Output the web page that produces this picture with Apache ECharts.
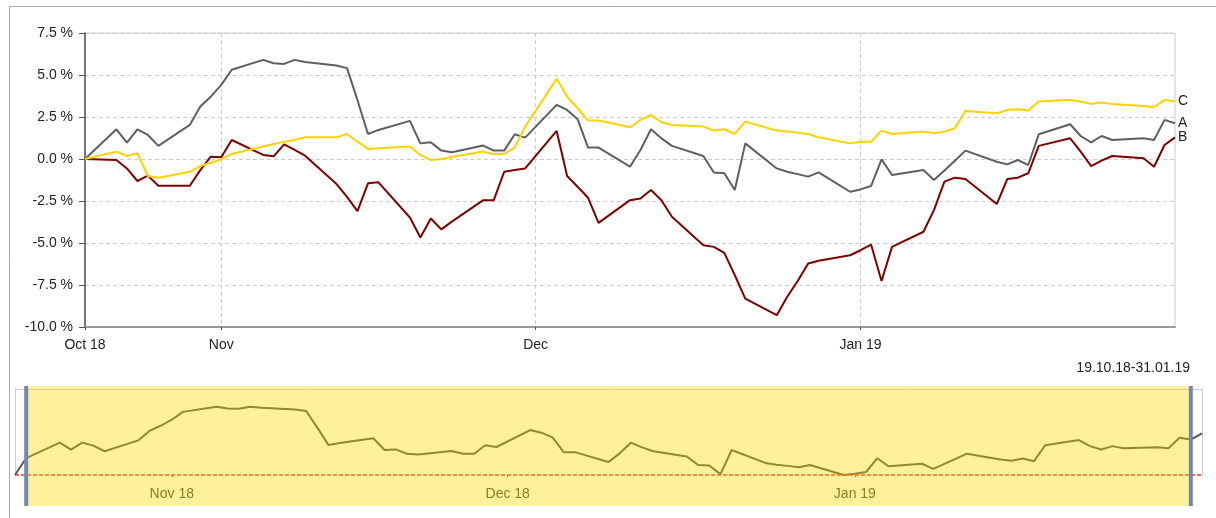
<!DOCTYPE html>
<html>
<head>
<meta charset="utf-8">
<script src="https://cdn.jsdelivr.net/npm/echarts@6/dist/echarts.min.js"></script>
<style>
html,body{margin:0;padding:0;background:#fff;}
#chart{width:1216px;height:518px;}
</style>
</head>
<body>
<div id="chart"></div>
<script>
// ---- data ----
const dates = [
 '2018-10-19','2018-10-22','2018-10-23','2018-10-24','2018-10-25','2018-10-26','2018-10-29','2018-10-30','2018-10-31',
 '2018-11-01','2018-11-02','2018-11-05','2018-11-06','2018-11-07','2018-11-08','2018-11-09','2018-11-12','2018-11-13','2018-11-14','2018-11-15','2018-11-16','2018-11-19','2018-11-20','2018-11-21','2018-11-22','2018-11-23','2018-11-26','2018-11-27','2018-11-28','2018-11-29','2018-11-30',
 '2018-12-03','2018-12-04','2018-12-05','2018-12-06','2018-12-07','2018-12-10','2018-12-11','2018-12-12','2018-12-13','2018-12-14','2018-12-17','2018-12-18','2018-12-19','2018-12-20','2018-12-21','2018-12-24','2018-12-25','2018-12-26','2018-12-27','2018-12-28','2018-12-31',
 '2019-01-01','2019-01-02','2019-01-03','2019-01-04','2019-01-07','2019-01-08','2019-01-09','2019-01-10','2019-01-11','2019-01-14','2019-01-15','2019-01-16','2019-01-17','2019-01-18','2019-01-21','2019-01-22','2019-01-23','2019-01-24','2019-01-25','2019-01-28','2019-01-29','2019-01-30','2019-01-31'
];
const seriesA = [
 0, 1.77, 0.97, 1.77, 1.43, 0.78, 2.03, 3.12, 3.71,
 4.41, 5.31, 5.9, 5.7, 5.66, 5.9, 5.77, 5.57, 5.41, 3.5, 1.49, 1.73, 2.27, 0.93, 0.99, 0.5, 0.4, 0.8, 0.5, 0.5, 1.47, 1.27,
 3.22, 2.92, 2.37, 0.68, 0.68, -0.46, 0.54, 1.77, 1.23, 0.78, 0.18, -0.8, -0.85, -1.85, 0.93, -0.56, -0.76, -0.9, -1.05, -0.8, -1.95,
 -1.81, -1.61, -0.02, -0.95, -0.66, -1.25, -0.68, -0.1, 0.5, -0.16, -0.32, -0.06, -0.36, 1.47, 2.07, 1.37, 0.99, 1.37, 1.13, 1.23, 1.13, 2.33, 2.13
];
const seriesB = [
 0, -0.06, -0.56, -1.31, -0.99, -1.59, -1.59, -0.66, 0.14,
 0.1, 1.13, 0.24, 0.16, 0.87, 0.54, 0.2, -1.49, -2.25, -3.1, -1.45, -1.39, -3.48, -4.67, -3.54, -4.19, -3.73, -2.45, -2.45, -0.76, -0.66, -0.56,
 1.67, -1.01, -1.65, -2.31, -3.8, -2.45, -2.35, -1.85, -2.45, -3.44, -5.13, -5.23, -5.59, -6.92, -8.31, -9.3, -8.2, -7.26, -6.22, -6.06, -5.73,
 -5.43, -5.09, -7.26, -5.23, -4.33, -3.04, -1.35, -1.11, -1.19, -2.68, -1.19, -1.11, -0.85, 0.78, 1.23, 0.44, -0.42, -0.1, 0.18, 0.04, -0.46, 0.83, 1.29
];
const seriesC = [
 0, 0.44, 0.18, 0.34, -1.01, -1.11, -0.76, -0.42, -0.22,
 -0.02, 0.3, 0.74, 0.89, 1.03, 1.13, 1.29, 1.29, 1.49, 1.03, 0.6, 0.64, 0.74, 0.24, -0.06, 0, 0.12, 0.44, 0.3, 0.3, 0.68, 1.93,
 4.77, 3.72, 3.02, 2.29, 2.29, 1.89, 2.33, 2.62, 2.19, 2.03, 1.93, 1.69, 1.77, 1.49, 2.23, 1.69, 1.63, 1.57, 1.49, 1.29, 0.93,
 1.03, 1.03, 1.69, 1.49, 1.63, 1.53, 1.63, 1.83, 2.86, 2.72, 2.92, 2.96, 2.88, 3.42, 3.52, 3.42, 3.28, 3.36, 3.28, 3.16, 3.08, 3.52, 3.42
];
const seriesNames = ['A', 'B', 'C'];
// navigator: series A extended by one point on each side
const navLeadDate = '2018-10-18', navLeadValue = -1.95;
const navTailDate = '2019-02-01', navTailValue = 2.85;
const navMax = 7.94;
const windowStart = '2018-10-19', windowEnd = '2019-01-31';
const rangeLabel = '19.10.18-31.01.19';
const xTickDates = ['2018-10-19', '2018-11-01', '2018-12-01', '2019-01-01'];
const xTickLabels = ['Oct 18', 'Nov', 'Dec', 'Jan 19'];
const navTickDates = ['2018-11-01', '2018-12-01', '2019-01-01'];
const navTickLabels = ['Nov 18', 'Dec 18', 'Jan 19'];
const yMin = -10, yMax = 7.5, yStep = 2.5;

// ---- helpers ----
const T = s => echarts.number.parseDate(s).getTime();
const pairs = vals => dates.map((d, i) => [T(d), vals[i]]);
const labelMap = {}; xTickDates.forEach((d, i) => labelMap[T(d)] = xTickLabels[i]);
const navMap = {}; navTickDates.forEach((d, i) => navMap[T(d)] = navTickLabels[i]);
const FONT = 'Liberation Sans, Arial, sans-serif';

const navData = [[T(navLeadDate), navLeadValue]].concat(pairs(seriesA), [[T(navTailDate), navTailValue]]);
const frameAxis = (extra) => Object.assign({
  axisLine: {show: true, onZero: false, lineStyle: {color: '#ccc', width: 1}},
  axisTick: {show: false}, axisLabel: {show: false}, splitLine: {show: false}
}, extra);

const chart = echarts.init(document.getElementById('chart'), null, {renderer: 'canvas'});
chart.setOption({
  animation: false,
  backgroundColor: '#fff',
  textStyle: {fontFamily: FONT},
  title: {
    text: rangeLabel, right: 26, top: 361, padding: 0,
    textStyle: {fontSize: 14, fontWeight: 'normal', color: '#222', fontFamily: FONT}
  },
  graphic: [{
    type: 'rect', left: 7, top: 4, silent: true,
    shape: {x: 0, y: 0, width: 1300, height: 600},
    style: {fill: 'none', stroke: '#aaa', lineWidth: 1}
  }],
  grid: [
    {left: 85, top: 33, width: 1090, height: 294, show: true, borderColor: '#ccc', borderWidth: 1, backgroundColor: 'transparent'},
    {left: 15, top: 389, width: 1187, height: 86, show: false}
  ],
  xAxis: [{
    type: 'value', gridIndex: 0, min: T(windowStart), max: T(windowEnd), scale: true,
    axisLine: {show: true, onZero: false, lineStyle: {color: '#999', width: 2}},
    axisTick: {show: true, length: 3, customValues: xTickDates.map(T), lineStyle: {color: '#555'}},
    axisLabel: {
      customValues: xTickDates.map(T), hideOverlap: false, showMinLabel: true,
      formatter: v => labelMap[v] || '', color: '#222', fontSize: 14, margin: 11, fontFamily: FONT
    },
    splitLine: {show: true, lineStyle: {color: '#ccc', type: [4, 3], width: 1}}
  }, {
    type: 'value', gridIndex: 1, min: T(navLeadDate), max: T(navTailDate), scale: true,
    axisLine: {show: false, onZero: false},
    axisTick: {show: true, length: 2, customValues: navTickDates.map(T), lineStyle: {color: '#555'}},
    axisLabel: {
      customValues: navTickDates.map(T), hideOverlap: false,
      formatter: v => navMap[v] || '', color: '#444', fontSize: 14, margin: 12, fontFamily: FONT
    },
    splitLine: {show: false}
  }, frameAxis({
    type: 'value', gridIndex: 1, position: 'top', min: T(navLeadDate), max: T(navTailDate), scale: true
  })],
  yAxis: [{
    type: 'value', gridIndex: 0, min: yMin, max: yMax, interval: yStep,
    axisLine: {show: true, lineStyle: {color: '#555', width: 1.5}},
    axisTick: {show: true, length: 6, lineStyle: {color: '#555'}},
    axisLabel: {formatter: v => v.toFixed(1) + ' %', color: '#222', fontSize: 14, margin: 12, fontFamily: FONT},
    splitLine: {show: true, lineStyle: {color: '#ccc', type: [4, 3], width: 1}}
  }, frameAxis({
    type: 'value', gridIndex: 1, position: 'left', min: navLeadValue, max: navMax
  }), frameAxis({
    type: 'value', gridIndex: 1, position: 'right', min: navLeadValue, max: navMax
  })],
  series: [
    {name: seriesNames[0], type: 'line', xAxisIndex: 0, yAxisIndex: 0, data: pairs(seriesA), showSymbol: false,
     lineStyle: {color: '#5f5f5f', width: 2}, itemStyle: {color: '#5f5f5f'},
     endLabel: {show: true, formatter: p => p.seriesName, color: '#222', fontSize: 14, distance: 3, fontFamily: FONT}, z: 3},
    {name: seriesNames[1], type: 'line', xAxisIndex: 0, yAxisIndex: 0, data: pairs(seriesB), showSymbol: false,
     lineStyle: {color: '#7f0000', width: 2}, itemStyle: {color: '#7f0000'},
     endLabel: {show: true, formatter: p => p.seriesName, color: '#222', fontSize: 14, distance: 3, fontFamily: FONT}, z: 2},
    {name: seriesNames[2], type: 'line', xAxisIndex: 0, yAxisIndex: 0, data: pairs(seriesC), showSymbol: false,
     lineStyle: {color: '#ffd200', width: 2}, itemStyle: {color: '#ffd200'},
     endLabel: {show: true, formatter: p => p.seriesName, color: '#222', fontSize: 14, distance: 3, fontFamily: FONT}, z: 4},
    {name: 'nav', type: 'line', xAxisIndex: 1, yAxisIndex: 1, data: navData, showSymbol: false,
     lineStyle: {color: '#555', width: 2}, itemStyle: {color: '#555'}, z: 4,
     markLine: {silent: true, symbol: 'none', label: {show: false},
       lineStyle: {color: '#f03020', type: [4, 2], width: 1.5, opacity: 1},
       emphasis: {disabled: true},
       data: [{yAxis: navLeadValue, lineStyle: {color: '#f03020'}}]}},
    {name: 'window', type: 'custom', xAxisIndex: 1, yAxisIndex: 1, z: 20, clip: false, silent: true,
     data: [[T(windowStart), T(windowEnd)]],
     encode: {x: [0, 1]},
     renderItem: (params, api) => {
       const p0 = api.coord([api.value(0), navLeadValue]);
       const p1 = api.coord([api.value(1), navLeadValue]);
       const cs = params.coordSys;
       const top = cs.y - 3, h = cs.height + 3 + 31;
       return {type: 'group', children: [
         {type: 'rect', shape: {x: p0[0], y: top, width: p1[0] - p0[0], height: h}, style: {fill: 'rgba(255,215,0,0.38)'}},
         {type: 'rect', shape: {x: p0[0] - 2, y: top, width: 4, height: h}, style: {fill: '#7088b8'}},
         {type: 'rect', shape: {x: p1[0] - 2, y: top, width: 4, height: h}, style: {fill: '#7088b8'}}
       ]};
     }}
  ]
});
</script>
</body>
</html>
